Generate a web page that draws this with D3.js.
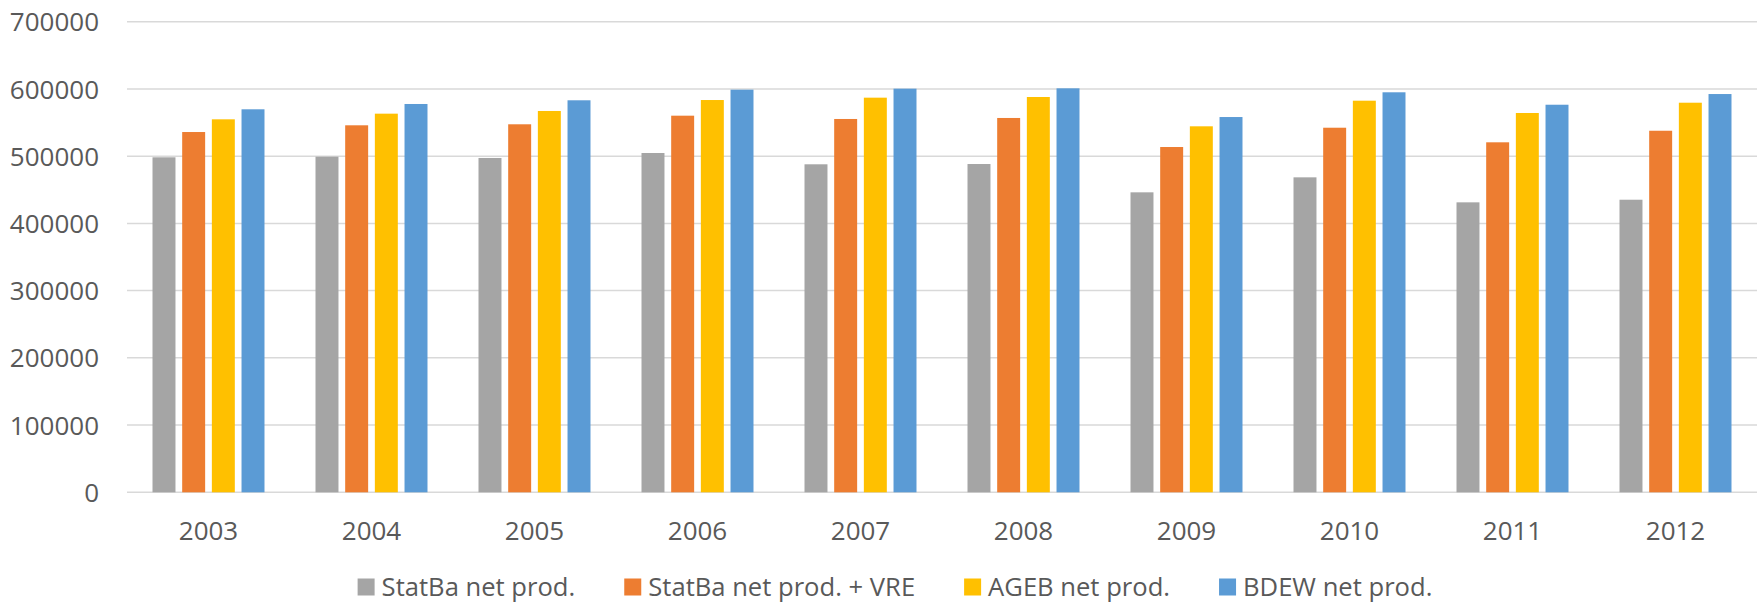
<!DOCTYPE html>
<html>
<head>
<meta charset="utf-8">
<script src="https://cdn.jsdelivr.net/npm/d3@7"></script>
<style>
  html, body { margin: 0; padding: 0; background: #fff; }
  svg { display: block; }
</style>
</head>
<body>
<svg id="chart" width="1762" height="606"></svg>
<script>
const years = ["2003","2004","2005","2006","2007","2008","2009","2010","2011","2012"];
const seriesNames = ["StatBa net prod.", "StatBa net prod. + VRE", "AGEB net prod.", "BDEW net prod."];
const statbaNet    = [498300, 499200, 497300, 504700, 487900, 488300, 446200, 468500, 431300, 435200];
const statbaNetVRE = [535900, 545900, 547400, 560200, 555300, 556800, 513600, 542300, 520600, 537800];
const agebNet      = [554800, 563200, 567200, 583500, 587000, 588000, 544400, 582500, 564200, 579500];
const bdewNet      = [569700, 577600, 583100, 598900, 600400, 600900, 558200, 595000, 576500, 592400];
const yTicks = [0, 100000, 200000, 300000, 400000, 500000, 600000, 700000];
const colors = ["#A5A5A5", "#ED7D31", "#FFC000", "#5B9BD5"];

const seriesValues = [statbaNet, statbaNetVRE, agebNet, bdewNet];

(function () {
const svg = d3.select("#chart");
const pLeft = 127, pRight = 1757, pTop = 21.7, pBottom = 492.3;
const font = "'Open Sans', 'Noto Sans', sans-serif";
const textColor = "#595959";

const y = d3.scaleLinear().domain([0, 700000]).range([pBottom, pTop]);
const x0 = d3.scaleBand().domain(years).range([pLeft, pRight]).paddingInner(0.313).paddingOuter(0.1565);
const x1 = d3.scaleBand().domain(d3.range(4)).range([0, x0.bandwidth()]).paddingInner(0.226).paddingOuter(0);

// gridlines
svg.append("g").selectAll("line").data(yTicks).join("line")
  .attr("x1", pLeft).attr("x2", pRight)
  .attr("y1", d => y(d)).attr("y2", d => y(d))
  .attr("stroke", "#D9D9D9").attr("stroke-width", 1.5);

// y axis labels
const yAxis = d3.axisLeft(y).tickValues(yTicks).tickSize(0).tickPadding(0).tickFormat(d3.format("d"));
const gy = svg.append("g").attr("transform", `translate(${99},0)`).call(yAxis);
gy.select(".domain").remove();
gy.selectAll("text").attr("font-family", font).attr("font-size", 26).attr("fill", textColor).attr("dy", "0.35em");

// bars
const groups = svg.append("g").selectAll("g").data(years).join("g")
  .attr("transform", d => `translate(${x0(d)},0)`);
groups.selectAll("rect").data((d, i) => seriesValues.map((s, k) => ({k, v: s[i]}))).join("rect")
  .attr("x", d => x1(d.k))
  .attr("width", x1.bandwidth())
  .attr("y", d => y(d.v))
  .attr("height", d => y(0) - y(d.v))
  .attr("fill", d => colors[d.k]);

// x axis labels
const xAxis = d3.axisBottom(x0).tickSize(0).tickPadding(0);
const gx = svg.append("g").attr("transform", `translate(0,${531})`).call(xAxis);
gx.select(".domain").remove();
gx.selectAll("text").attr("font-family", font).attr("font-size", 26).attr("fill", textColor).attr("dy", "0.35em");

// legend
const legend = svg.append("g");
const items = legend.selectAll("g").data(seriesNames).join("g");
items.append("rect").attr("width", 17).attr("height", 17).attr("y", -8.5).attr("fill", (d, i) => colors[i]);
items.append("text").attr("x", 24).attr("dy", "0.35em").text(d => d)
  .attr("font-family", font).attr("font-size", 25.6).attr("fill", textColor);
let pos = 0;
const offsets = [];
items.each(function() {
  offsets.push(pos);
  const w = d3.select(this).select("text").node().getComputedTextLength();
  pos += 24 + w + 49;
});
const total = pos - 49;
const startX = 895 - total / 2;
items.attr("transform", (d, i) => `translate(${startX + offsets[i]},${587})`);
})();
</script>
</body>
</html>
